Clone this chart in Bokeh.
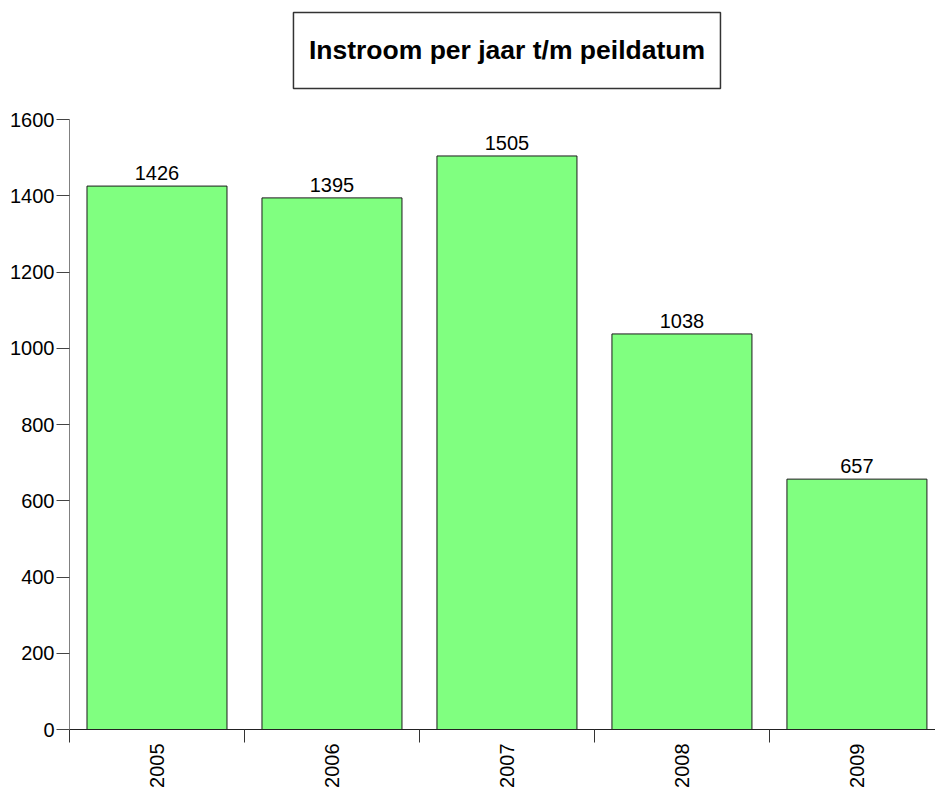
import math
from bokeh.plotting import figure
from bokeh.models import Range1d, FixedTicker, LinearAxis, ColumnDataSource
from bokeh.core.properties import value
from bokeh.embed import file_html
from bokeh.resources import INLINE

years = ["2005", "2006", "2007", "2008", "2009"]
counts = [1426, 1395, 1505, 1038, 657]
y_ticks = [0, 200, 400, 600, 800, 1000, 1200, 1400, 1600]
title_text = "Instroom per jaar t/m peildatum"

FONT = "Liberation Sans"
n = len(years)
xs = [i + 0.5 for i in range(n)]

p = figure(output_backend="svg", toolbar_location=None,
           frame_width=866, frame_height=721,
           x_range=Range1d(0, 4.949), y_range=Range1d(0, 1892),
           x_axis_type=None, y_axis_type=None,
           min_border_left=69, min_border_right=0, min_border_top=8, min_border_bottom=10)
p.outline_line_color = None
p.grid.visible = False
p.background_fill_color = "white"
p.border_fill_color = "white"

src = ColumnDataSource(dict(x=xs, top=counts, lab=[str(c) for c in counts]))
p.vbar(x="x", top="top", bottom=0, width=0.8, source=src,
       fill_color="#80FF80", line_color="#1a1a1a", line_width=1)
p.text(x="x", y="top", text="lab", source=src, text_align="center",
       text_baseline="alphabetic", y_offset=-13, text_font=value(FONT),
       text_font_size="20px", text_color="black")

# title box
p.rect(x=[n / 2], y=[1782], width=427, height=76, width_units="screen",
       height_units="screen", fill_color="white", line_color="#333333", line_width=1.5)
p.text(x=[n / 2], y=[1782], text=[title_text], text_align="center",
       text_baseline="middle", text_font=value(FONT), text_font_style="bold",
       text_font_size="26.5px", text_color="black")

# y axis
ya = LinearAxis(ticker=FixedTicker(ticks=y_ticks, minor_ticks=[]), bounds=(0, 1600))
ya.axis_line_color = "#808080"
ya.major_tick_line_color = "#444444"
ya.major_tick_in = 0
ya.major_tick_out = 13
ya.minor_tick_line_color = None
ya.major_label_standoff = 2
ya.major_label_text_font = FONT
ya.major_label_text_font_size = "20px"
ya.major_label_text_color = "black"
p.add_layout(ya, "left")

# x axis
xa = LinearAxis(ticker=FixedTicker(ticks=xs, minor_ticks=list(range(n + 1))))
xa.major_label_overrides = {x: y for x, y in zip(xs, years)}
xa.axis_line_color = "#222222"
xa.major_tick_line_color = None
xa.major_tick_in = 0
xa.major_tick_out = 13
xa.minor_tick_line_color = "#333333"
xa.minor_tick_in = 0
xa.minor_tick_out = 13
xa.major_label_standoff = 1
xa.major_label_orientation = math.pi / 2
xa.major_label_text_font = FONT
xa.major_label_text_font_size = "20px"
xa.major_label_text_color = "black"
p.add_layout(xa, "below")

open("out.html", "w").write(file_html(p, INLINE))
